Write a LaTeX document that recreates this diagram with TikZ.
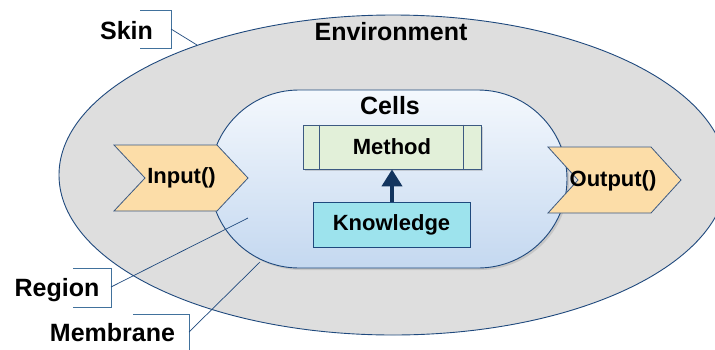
\documentclass[tikz,border=0pt]{standalone}
\usepackage{fontspec}
\setmainfont{Liberation Sans}
\usetikzlibrary{shapes.geometric,shapes.misc,arrows.meta,shadows}
\definecolor{edge}{RGB}{31,73,125}
\definecolor{bracketc}{RGB}{65,113,156}
\definecolor{envfill}{RGB}{222,222,222}
\definecolor{celltop}{RGB}{244,248,253}
\definecolor{cellbot}{RGB}{196,216,240}
\definecolor{chev}{RGB}{252,221,168}
\definecolor{chevedge}{RGB}{60,90,130}
\definecolor{methfill}{RGB}{226,240,217}
\definecolor{knowfill}{RGB}{157,227,237}
\definecolor{arrowc}{RGB}{18,52,94}
\begin{document}
\begin{tikzpicture}[x=1pt,y=-1pt,
  bigtext/.style={font=\fontsize{25}{28}\selectfont\bfseries, inner sep=0pt},
  smalltext/.style={font=\fontsize{22}{25}\selectfont\bfseries, inner sep=0pt},
  chevshape/.style={draw=chevedge, fill=chev, line width=0.8pt, line join=miter},
  boxstyle/.style={draw=chevedge, line width=0.8pt, inner sep=0pt},
  callout/.style={draw=edge, line width=0.7pt},
  bracketline/.style={draw=bracketc, line width=0.8pt}]
\useasboundingbox (0,0) rectangle (715,349);
% environment
\node[ellipse, draw=edge, fill=envfill, line width=0.9pt, minimum width=668pt, minimum height=320pt, inner sep=0pt] (env) at (393,175) {};
% cells
\node[rounded rectangle, draw=edge, line width=0.9pt, top color=celltop, bottom color=cellbot,
      drop shadow={opacity=0.25, shadow xshift=2pt, shadow yshift=-2pt},
      minimum width=357pt, minimum height=178pt, inner sep=0pt] (cells) at (388.5,179) {};
% chevrons
\draw[chevshape] (114,145) -- (217,145) -- (248,178) -- (217,211) -- (114,211) -- (145,178) -- cycle;
\draw[chevshape] (548,147) -- (651,147) -- (681,180) -- (651,213) -- (548,213) -- (578,180) -- cycle;
\node[smalltext] (inp) at (181.5,178) {Input()};
\node[smalltext] (outp) at (613,181) {Output()};
% method
\node[boxstyle, fill=methfill, minimum width=178pt, minimum height=44pt,
      drop shadow={opacity=0.3, shadow xshift=2pt, shadow yshift=-2pt}] (meth) at (392,147) {};
\draw[boxstyle] ([xshift=17pt]meth.north west) -- ([xshift=17pt]meth.south west);
\draw[boxstyle] ([xshift=-18pt]meth.north east) -- ([xshift=-18pt]meth.south east);
\node[smalltext] (methtxt) at (meth.center) {Method};
% knowledge
\node[boxstyle, draw=edge, fill=knowfill, minimum width=157pt, minimum height=45pt] (know) at (391.5,224.5) {};
\node[smalltext] (knowtxt) at (know.center) {Knowledge};
% arrow
\draw[arrowc, line width=4pt, -{Triangle[width=20pt,length=17pt]}] (know.north -| meth.south) -- (meth.south);
% titles
\node[bigtext] (envtxt) at (391,32) {Environment};
\node[bigtext] (cellstxt) at (390,106) {Cells};
% callouts
\node[bigtext] (skin) at (126.5,31) {Skin};
\draw[bracketline] (140,10) -- (171,10) -- (171,48) -- (140,48);
\coordinate (skinc) at (171,29);
\coordinate (skint) at (197,45);
\draw[callout] (skinc) -- (skint);

\node[bigtext] (region) at (57,290) {Region};
\draw[bracketline] (73,268) -- (111,268) -- (111,307) -- (73,307);
\coordinate (regc) at (111,287);
\coordinate (regt) at (248,218);
\draw[callout] (regc) -- (regt);

\node[bigtext] (memb) at (112.5,333) {Membrane};
\draw[bracketline] (133,314) -- (189,314) -- (189,352);
\coordinate (membc) at (189,332);
\coordinate (membt) at (260,262);
\draw[callout] (membc) -- (membt);
\end{tikzpicture}
\end{document}
